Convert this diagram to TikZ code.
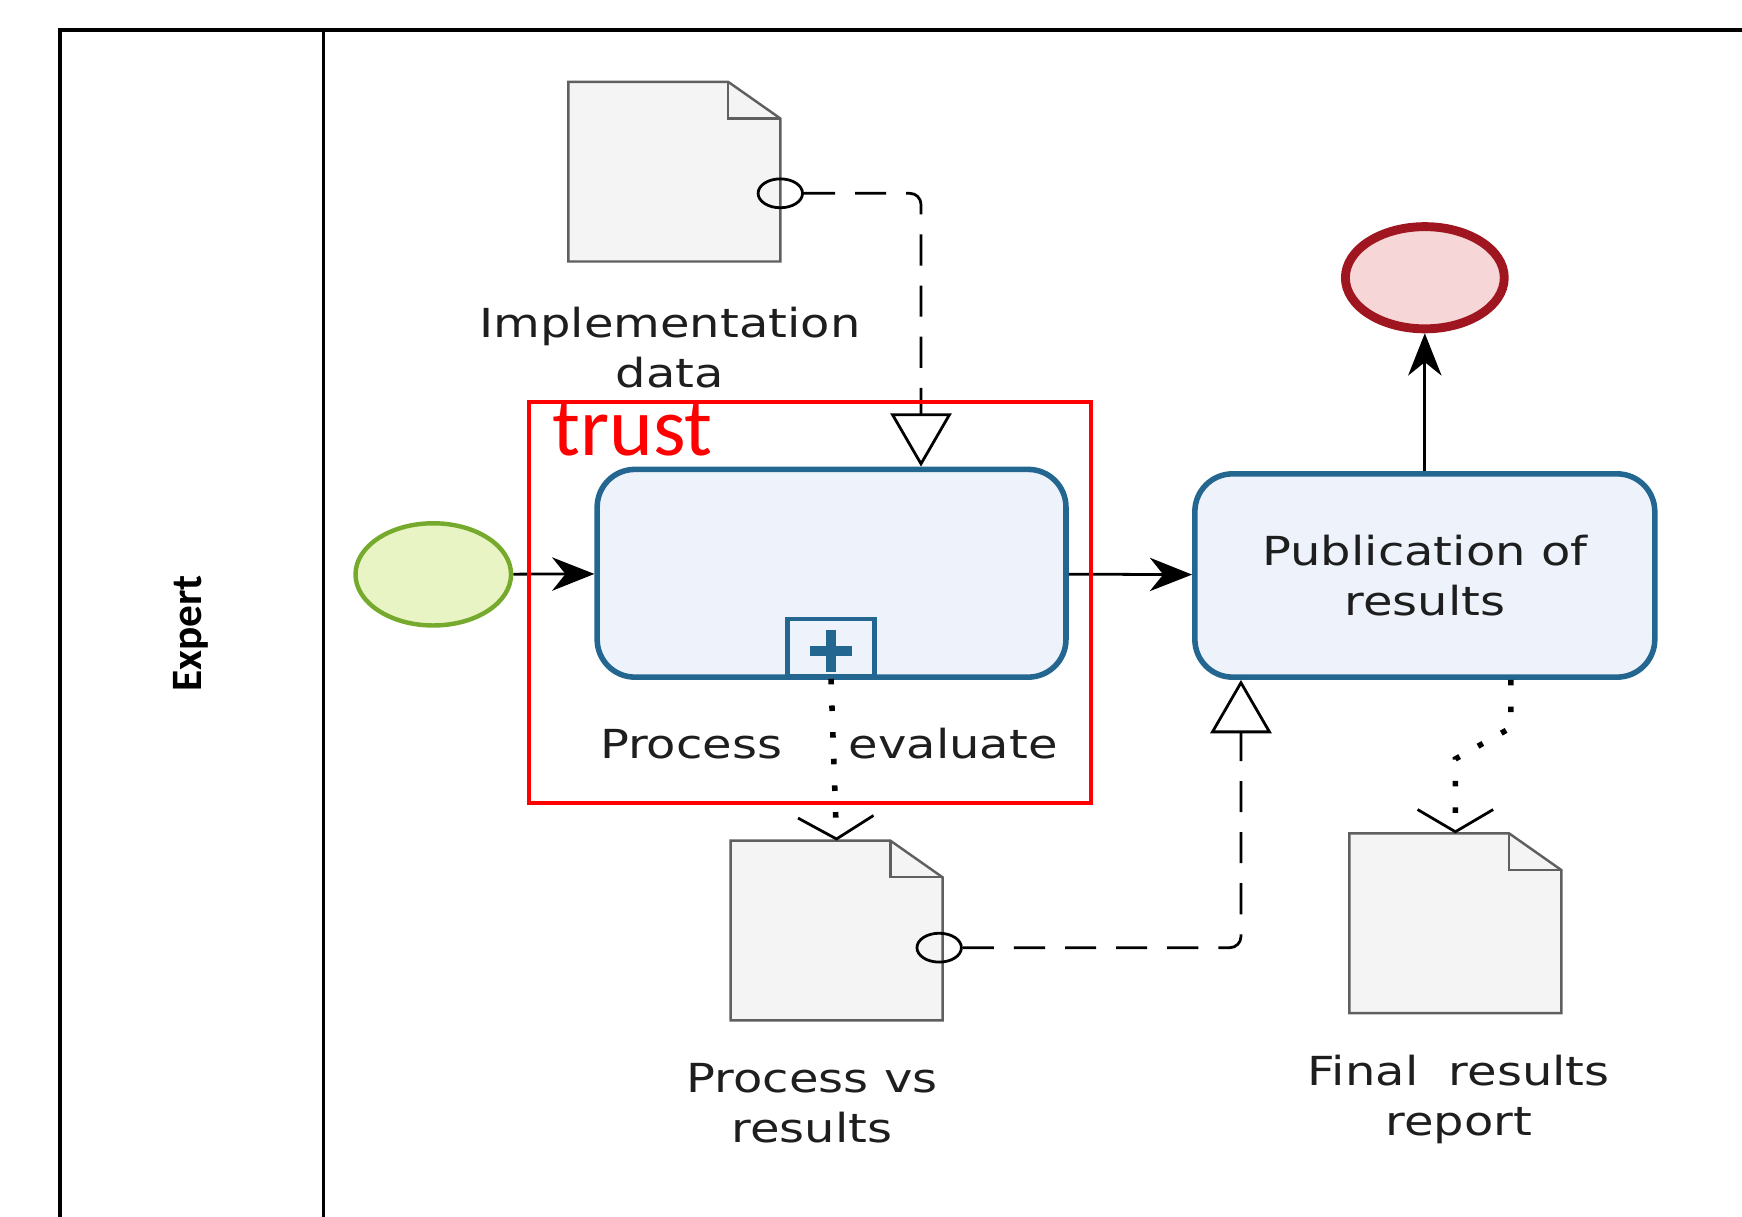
\documentclass[tikz,border=0pt]{standalone}
\usepackage{fontspec}
\usetikzlibrary{arrows.meta,shapes.geometric,calc}
\newfontfamily\bpmnfont[FakeStretch=1.2]{DejaVu Sans}
\newfontfamily\trustfont{Carlito}

\definecolor{taskblue}{RGB}{35,103,145}
\definecolor{taskfill}{RGB}{238,243,251}
\definecolor{startgreen}{RGB}{118,170,44}
\definecolor{startfill}{RGB}{233,244,196}
\definecolor{endred}{RGB}{160,22,32}
\definecolor{endfill}{RGB}{246,214,214}
\definecolor{docgray}{RGB}{95,95,95}
\definecolor{docfill}{RGB}{244,244,244}
\definecolor{lbltext}{RGB}{30,30,30}

\tikzset{every picture/.style={line width=0.75pt}}
\tikzset{
  task/.style={draw=taskblue, fill=taskfill, line width=5pt, rounded corners=34pt, inner sep=0pt},
  dataobj/.style={inner sep=0pt, minimum width=190pt, minimum height=161pt},
  lbl/.style={font=\bpmnfont\fontsize{36}{45}\selectfont, text=lbltext, align=center},
  pin/.style={draw=black, ellipse, line width=2.5pt, minimum width=40pt, minimum height=26pt, inner sep=0pt},
  seqflow/.style={line width=2.5pt, -{Stealth[length=38pt, width=30pt, inset=12pt]}},
  dataflow/.style={line width=2.5pt, dash pattern=on 28pt off 18pt, rounded corners=10pt, -{Triangle[open, length=48pt, width=55pt, fill=white]}},
  assoc/.style={line width=5pt, dash pattern=on 5pt off 19pt, -{Straight Barb[length=20pt, width=68pt, line width=2.5pt]}},
}

% page outline of a data object
\newcommand{\docpage}[1]{%
  \draw [draw=docgray, fill=docfill, line width=2.2pt] (#1.north west) -- ($(#1.north east)+(-47,0)$) -- ($(#1.north east)+(0,33)$) -- (#1.south east) -- (#1.south west) -- cycle;
  \draw [docgray, line width=2.2pt] ($(#1.north east)+(-47,0)$) |- ($(#1.north east)+(0,33)$);}

\begin{document}
\begin{tikzpicture}[x=1pt,y=1pt,yscale=-1,xscale=1]
\useasboundingbox (0,0) rectangle (1568,1095);

%Straight Lines (lane)
\draw [line width=3pt] (1568,27) -- (54,27) -- (54,1095) ;
\draw [line width=3pt] (291,27) -- (291,1095) ;

% Text Node
\draw (172,570) node (expert) [rotate=90, font=\trustfont\bfseries\fontsize{39}{44}\selectfont] {Expert};

%Shape: Ellipse
\node (start) at (390,517) [ellipse, draw=startgreen, fill=startfill, line width=4pt, minimum width=140pt, minimum height=92pt] {};
%Shape: Ellipse
\node (finish) at (1282.5,250) [ellipse, draw=endred, fill=endfill, line width=8pt, minimum width=143pt, minimum height=92pt] {};

%Shape: Rounded Rect
\node (evalproc) at (748.5,516) [task, minimum width=422pt, minimum height=187pt] {};
\node (marker) at (748,583) [draw=taskblue, fill=taskfill, line width=4pt, minimum width=78pt, minimum height=52pt, inner sep=0pt] {};
\draw [taskblue, line width=9pt] ($(marker)+(-19,3)$) -- ($(marker)+(19,3)$) ;
\draw [taskblue, line width=9pt] ($(marker)+(0,-16)$) -- ($(marker)+(0,22)$) ;
%Shape: Rounded Rect
\node (publish) at (1282.5,518) [task, lbl, minimum width=414pt, minimum height=183pt] {Publication of\\results};

%Data objects
\node (impldata) at (607,154.5) [dataobj] {};
\docpage{impldata}
\node (procres) at (753,837.5) [dataobj] {};
\docpage{procres}
\node (finalrep) at (1310,831) [dataobj] {};
\docpage{finalrep}

% Text Node
\draw (603,313) node (impllbl) [lbl] {Implementation\\data};
% Text Node
\draw (746,669) node (evallbl) [lbl] {Process\hspace{60pt}evaluate};
% Text Node
\draw (731,993) node (reslbl) [lbl] {Process vs\\results};
% Text Node
\draw (1313,990) node (finallbl) [lbl] {Final\ \ results\\report};

%Sequence flows
\draw [seqflow] (start) -- (evalproc) ;
\draw [seqflow] (evalproc) -- (publish) ;
\draw [seqflow] (publish) -- (finish) ;

%Data associations
\node (pinimpl) at ($(impldata.east)+(0,19.5)$) [pin] {};
\draw [dataflow] (pinimpl.east) -| ($(evalproc.north)+(80.5,0)$) ;
\node (pinres) at ($(procres.east)+(-3,15.5)$) [pin] {};
\draw [dataflow] (pinres.east) -| ($(publish.south)+(-165.5,0)$) ;
\draw [assoc] (marker.south) -- (procres.north) ;
\draw [assoc] ($(publish.south)+(77.5,0)$) -- ++(0,43) -- ($(finalrep.north)+(0,-67)$) -- (finalrep.north) ;

%Highlight
\draw [red, line width=3.5pt] (476,362) rectangle (982,723) ;
\draw (497,410) node (trust) [anchor=base west, inner sep=0pt, text=red, font=\trustfont\fontsize{75}{80}\selectfont] {trust};

\end{tikzpicture}
\end{document}
